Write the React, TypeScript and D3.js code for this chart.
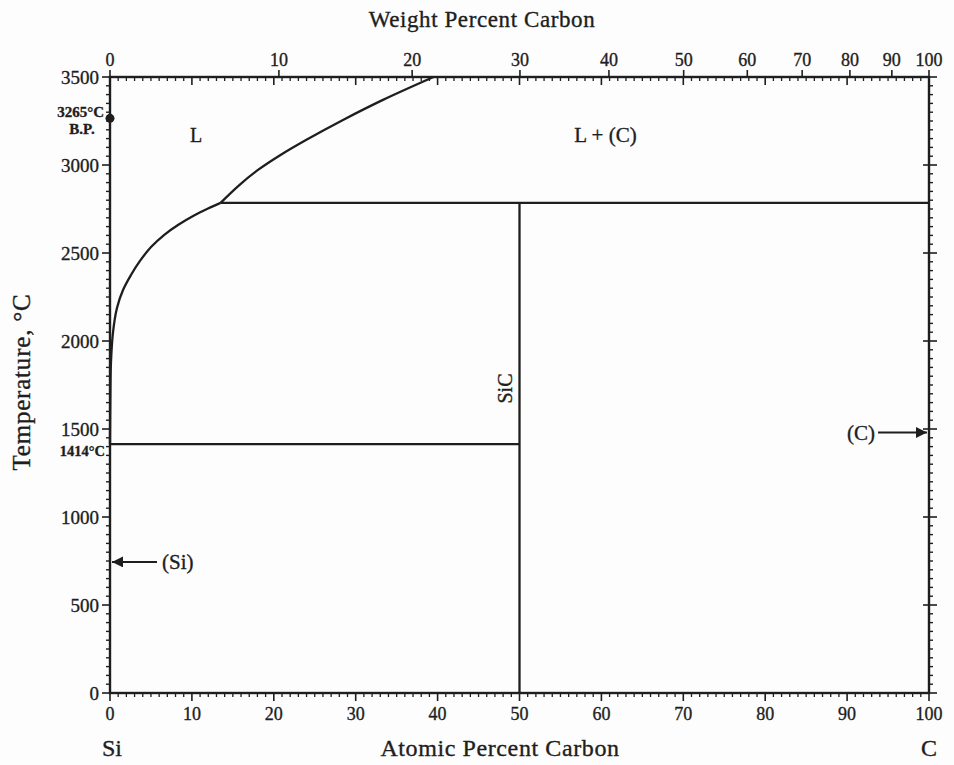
import React, { useRef, useEffect } from "react";
import { select, scaleLinear, line, curveCatmullRom, range } from "d3";

// phase boundary readings (atomic % C, temperature °C)
const liqLowAt = [0, 0.04, 0.12, 0.37, 0.85, 1.59, 2.56, 3.66, 5.01, 6.59, 8.3, 10.26, 11.97, 13.5];
const liqLowT = [1414, 1665, 1881, 2051, 2188, 2290, 2375, 2455, 2534, 2602, 2659, 2713, 2753, 2785];
const liqHighAt = [13.5, 15.79, 18.07, 20.82, 23.93, 28.45, 33.33, 39.5];
const liqHighT = [2785, 2886, 2972, 3057, 3142, 3256, 3370, 3500];

const siMelt = 1414;
const boilPt = 3265;
const peritecticT = 2785;
const peritecticAt = 13.5;
const sicAt = 50;

const tempTicks = [0, 500, 1000, 1500, 2000, 2500, 3000, 3500];
const atTicks = [0, 10, 20, 30, 40, 50, 60, 70, 80, 90, 100];
const wtTicks = [0, 10, 20, 30, 40, 50, 60, 70, 80, 90, 100];
const arrowT = [745, 1480]; // (Si), (C)

const MC = 12.011, MSi = 28.086;
const wtToAt = (w: number) => {
  if (w >= 100) return 100;
  const c = w / MC, s = (100 - w) / MSi;
  return (100 * c) / (c + s);
};

export default function App() {
  const svgRef = useRef(null);

  useEffect(() => {
    const svg = select(svgRef.current);
    svg.selectAll("*").remove();

    const x = scaleLinear().domain([0, 100]).range([110, 929]);
    const y = scaleLinear().domain([0, 3500]).range([693, 77]);
    const font = "'Liberation Serif', 'Times New Roman', serif";
    const ink = "#1e1e1e";

    svg.append("rect").attr("width", 954).attr("height", 765).attr("fill", "#fdfdfd");

    const g = svg.append("g").attr("stroke", ink).attr("fill", "none");

    // ticks: left + right temperature (outward)
    range(0, 3501, 50).forEach((t) => {
      const major = t % 500 === 0;
      const len = major ? 8 : 4;
      g.append("line").attr("x1", x(0) - len).attr("x2", x(0)).attr("y1", y(t)).attr("y2", y(t)).attr("stroke-width", major ? 1.6 : 1.4);
      g.append("line").attr("x1", x(100)).attr("x2", x(100) + len).attr("y1", y(t)).attr("y2", y(t)).attr("stroke-width", major ? 1.6 : 1.4);
      if (major && t > 0 && t < 3500) {
        g.append("line").attr("x1", x(100) - 6).attr("x2", x(100)).attr("y1", y(t)).attr("y2", y(t)).attr("stroke-width", 1.6);
      }
    });
    // bottom atomic ticks (outward), top atomic ticks (inward)
    range(0, 101, 1).forEach((a) => {
      const major = a % 10 === 0;
      const len = major ? 8 : 4;
      g.append("line").attr("x1", x(a)).attr("x2", x(a)).attr("y1", y(0)).attr("y2", y(0) + len).attr("stroke-width", major ? 1.6 : 1.3);
      g.append("line").attr("x1", x(a)).attr("x2", x(a)).attr("y1", y(3500)).attr("y2", y(3500) + len).attr("stroke-width", major ? 1.6 : 1.3);
    });
    // top weight % ticks (outward)
    wtTicks.forEach((w) => {
      g.append("line").attr("x1", x(wtToAt(w))).attr("x2", x(wtToAt(w))).attr("y1", y(3500) - 7).attr("y2", y(3500)).attr("stroke-width", 1.6);
    });

    // frame
    g.append("rect")
      .attr("x", x(0)).attr("y", y(3500))
      .attr("width", x(100) - x(0)).attr("height", y(0) - y(3500))
      .attr("stroke-width", 2.4);

    // phase boundaries
    const ln = line<[number, number]>().x((d) => x(d[0])).y((d) => y(d[1])).curve(curveCatmullRom.alpha(0.5));
    g.append("path").attr("d", ln(liqLowAt.map((a, i) => [a, liqLowT[i]]))).attr("stroke-width", 2.3);
    g.append("path").attr("d", ln(liqHighAt.map((a, i) => [a, liqHighT[i]]))).attr("stroke-width", 2.3);
    g.append("line").attr("x1", x(0)).attr("x2", x(sicAt)).attr("y1", y(siMelt)).attr("y2", y(siMelt)).attr("stroke-width", 2.3);
    g.append("line").attr("x1", x(peritecticAt)).attr("x2", x(100)).attr("y1", y(peritecticT)).attr("y2", y(peritecticT)).attr("stroke-width", 2.3);
    g.append("line").attr("x1", x(sicAt)).attr("x2", x(sicAt)).attr("y1", y(0)).attr("y2", y(peritecticT)).attr("stroke-width", 2.3);

    // boiling point dot
    svg.append("circle").attr("cx", x(0)).attr("cy", y(boilPt)).attr("r", 4.5).attr("fill", ink);

    // arrows
    svg.append("defs").append("marker").attr("id", "ah").attr("viewBox", "0 0 10 10").attr("refX", 10).attr("refY", 5)
      .attr("markerWidth", 13).attr("markerHeight", 11).attr("markerUnits", "userSpaceOnUse").attr("orient", "auto")
      .append("path").attr("d", "M0,0 L10,5 L0,10 z").attr("fill", ink).attr("stroke", "none");
    g.append("line").attr("x1", x(0) + 47).attr("x2", x(0) + 2).attr("y1", y(arrowT[0])).attr("y2", y(arrowT[0]))
      .attr("stroke-width", 2).attr("marker-end", "url(#ah)");
    g.append("line").attr("x1", x(100) - 51).attr("x2", x(100) - 2).attr("y1", y(arrowT[1])).attr("y2", y(arrowT[1]))
      .attr("stroke-width", 2).attr("marker-end", "url(#ah)");

    // text
    const t = svg.append("g").attr("fill", ink).attr("stroke", ink).attr("stroke-width", 0.35).style("font-family", font);

    tempTicks.forEach((v) => {
      t.append("text").attr("x", x(0) - 11).attr("y", y(v)).attr("dy", "0.35em")
        .attr("text-anchor", "end").attr("font-size", 19).text(v);
    });
    atTicks.forEach((v) => {
      t.append("text").attr("x", x(v)).attr("y", y(0) + 27)
        .attr("text-anchor", "middle").attr("font-size", 18).text(v);
    });
    wtTicks.forEach((v) => {
      t.append("text").attr("x", x(wtToAt(v))).attr("y", y(3500) - 11)
        .attr("text-anchor", "middle").attr("font-size", 18).text(v);
    });

    t.append("text").attr("x", 482).attr("y", 27).attr("text-anchor", "middle").attr("font-size", 23)
      .attr("letter-spacing", 0.6).text("Weight Percent Carbon");
    t.append("text").attr("x", 500).attr("y", 756).attr("text-anchor", "middle").attr("font-size", 24)
      .attr("letter-spacing", 0.6).text("Atomic Percent Carbon");
    t.append("text").attr("x", x(0) + 2).attr("y", 756).attr("text-anchor", "middle").attr("font-size", 24).text("Si");
    t.append("text").attr("x", x(100)).attr("y", 756).attr("text-anchor", "middle").attr("font-size", 24).text("C");
    t.append("text").attr("transform", "translate(30,382) rotate(-90)").attr("text-anchor", "middle")
      .attr("font-size", 25).attr("letter-spacing", 0.8).text("Temperature, °C");

    t.append("text").attr("x", 104).attr("y", 117).attr("text-anchor", "end").attr("font-size", 15).attr("font-weight", "bold").text("3265°C");
    t.append("text").attr("x", 82).attr("y", 134).attr("text-anchor", "middle").attr("font-size", 15).attr("font-weight", "bold").text("B.P.");
    t.append("text").attr("x", 105).attr("y", 456).attr("text-anchor", "end").attr("font-size", 14.5).attr("font-weight", "bold").text("1414°C");

    t.append("text").attr("x", x(10.5)).attr("y", y(3130)).attr("text-anchor", "middle").attr("font-size", 20).text("L");
    t.append("text").attr("x", x(60.5)).attr("y", y(3130)).attr("text-anchor", "middle").attr("font-size", 21).text("L + (C)");
    t.append("text").attr("transform", `translate(${x(sicAt) - 8},${y(1730)}) rotate(-90)`).attr("text-anchor", "middle")
      .attr("font-size", 20).text("SiC");
    t.append("text").attr("x", x(0) + 52).attr("y", y(arrowT[0])).attr("dy", "0.35em").attr("font-size", 21).text("(Si)");
    t.append("text").attr("x", x(100) - 54).attr("y", y(arrowT[1])).attr("dy", "0.35em").attr("text-anchor", "end").attr("font-size", 21).text("(C)");
  }, []);

  return (
    <div style={{ position: "absolute", left: 0, top: 0 }}>
      <svg ref={svgRef} width={954} height={765} style={{ display: "block" }} />
    </div>
  );
}
